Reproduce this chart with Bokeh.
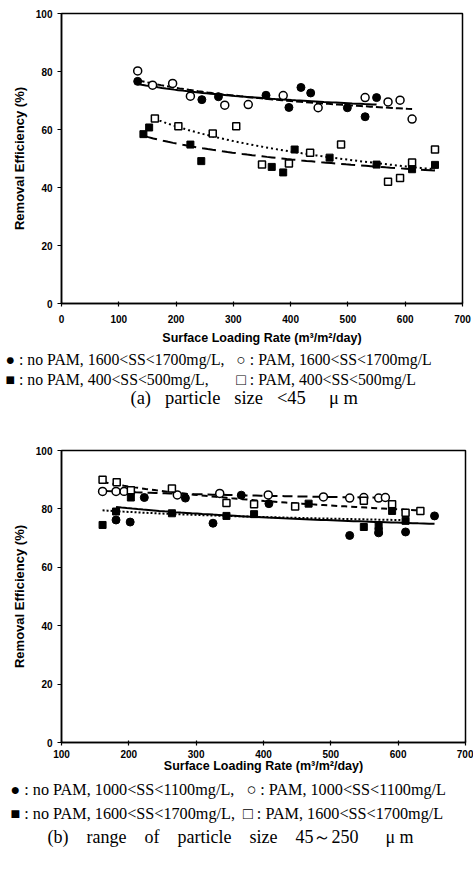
import numpy as np
from bokeh.plotting import figure
from bokeh.layouts import column
from bokeh.models import FixedTicker, Range1d, Title
from bokeh.embed import file_html
from bokeh.resources import INLINE

# ---------- (a) particle size < 45 um ----------
a_x_nopam_hi = [133, 245, 274, 357, 397, 418, 435, 499, 530, 550]
a_y_nopam_hi = [76.6, 70.3, 71.3, 71.8, 67.6, 74.5, 72.6, 67.5, 64.4, 71.0]
a_x_pam_hi = [133, 159, 194, 225, 285, 326, 387, 448, 530, 570, 591, 612]
a_y_pam_hi = [80.2, 75.3, 75.9, 71.5, 68.4, 68.6, 71.7, 67.5, 71.0, 69.5, 70.1, 63.6]
a_x_nopam_lo = [143, 153, 225, 244, 367, 387, 407, 468, 550, 612, 652]
a_y_nopam_lo = [58.4, 60.7, 54.8, 49.1, 47.1, 45.2, 53.1, 50.3, 47.9, 46.3, 47.8]
a_x_pam_lo = [163, 204, 264, 305, 350, 397, 434, 488, 570, 591, 612, 652]
a_y_pam_lo = [63.8, 61.1, 58.6, 61.1, 47.9, 48.3, 52.0, 54.8, 42.0, 43.3, 48.6, 53.1]

# ---------- (b) particle size 45~250 um ----------
b_x_nopam_1000 = [181, 202, 223, 284, 325, 367, 408, 528, 571, 611, 654]
b_y_nopam_1000 = [76.2, 75.5, 83.9, 83.7, 75.1, 84.7, 81.8, 70.9, 71.8, 72.1, 77.6]
b_x_pam_1000 = [161, 181, 193, 272, 335, 407, 489, 528, 549, 571, 581]
b_y_pam_1000 = [86.0, 86.0, 86.0, 84.8, 85.3, 84.8, 84.1, 83.7, 83.9, 83.7, 83.9]
b_x_nopam_1600 = [161, 181, 203, 264, 345, 386, 467, 549, 571, 571, 591, 611]
b_y_nopam_1600 = [74.5, 79.1, 83.9, 78.5, 77.6, 78.2, 81.8, 73.8, 74.1, 72.4, 79.3, 75.9]
b_x_pam_1600 = [161, 182, 203, 264, 345, 386, 447, 549, 591, 611, 633]
b_y_pam_1600 = [90.0, 89.1, 86.4, 87.0, 82.0, 81.6, 80.8, 82.8, 81.6, 78.7, 79.3]

y_ticks = [0, 20, 40, 60, 80, 100]
a_x_ticks = [0, 100, 200, 300, 400, 500, 600, 700]
b_x_ticks = [100, 200, 300, 400, 500, 600, 700]

NB = "\u00a0"
x_title = "Surface Loading Rate (m\u00b3/m\u00b2/day)"
y_title = "Removal Efficiency (%)"
a_legend = ["\u25cf : no PAM, 1600<SS<1700mg/L," + NB * 3 + "\u25cb : PAM, 1600<SS<1700mg/L",
            "\u25a0 : no PAM, 400<SS<500mg/L," + NB * 7 + "\u25a1 : PAM, 400<SS<500mg/L"]
b_legend = ["\u25cf : no PAM, 1000<SS<1100mg/L," + NB * 3 + "\u25cb : PAM, 1000<SS<1100mg/L",
            "\u25a0 : no PAM, 1600<SS<1700mg/L," + NB * 2 + "\u25a1 : PAM, 1600<SS<1700mg/L"]
a_caption = "(a)" + NB * 3 + "particle" + NB * 3 + "size" + NB * 3 + "<45" + NB * 5 + "\u03bc" + NB + "m"
b_caption = ("(b)" + NB * 4 + "range" + NB * 4 + "of" + NB * 4 + "particle" + NB * 4 + "size" + NB * 4
             + "45\uff5e250" + NB * 6 + "\u03bc" + NB + "m")

SANS = "Liberation Sans"
SERIF = "Liberation Serif"
W = 473


def log_trend(xs, ys):
    xs = np.asarray(xs, float)
    ys = np.asarray(ys, float)
    a, b = np.polyfit(np.log(xs), ys, 1)
    xx = np.linspace(xs.min(), xs.max(), 60)
    return xx, a * np.log(xx) + b


def make_fig(xr, xticks, fw, fh, left, top, bottom, label_standoff, title_standoff):
    p = figure(frame_width=fw, frame_height=fh, x_range=Range1d(*xr), y_range=Range1d(0, 100),
               output_backend="svg", toolbar_location=None, title=None,
               min_border_left=left, min_border_right=W - left - fw, min_border_top=top,
               min_border_bottom=bottom)
    p.grid.visible = False
    p.outline_line_color = "black"
    p.outline_line_width = 1.5
    for ax in (p.xaxis[0], p.yaxis[0]):
        ax.axis_line_width = 1.5
        ax.axis_line_color = "black"
        ax.major_tick_line_width = 1.2
        ax.minor_tick_line_color = None
        ax.major_label_text_font = SANS
        ax.major_label_text_font_style = "bold"
        ax.major_label_text_font_size = "10px"
        ax.major_label_text_color = "black"
        ax.axis_label_text_font = SANS
        ax.axis_label_text_font_style = "bold"
        ax.axis_label_text_color = "black"
    p.xaxis.ticker = FixedTicker(ticks=xticks)
    p.yaxis.ticker = FixedTicker(ticks=y_ticks)
    p.xaxis.major_tick_in = 2
    p.xaxis.major_tick_out = 3
    p.yaxis.major_tick_in = 0
    p.yaxis.major_tick_out = 4
    p.xaxis.major_label_standoff = label_standoff
    p.yaxis.major_label_standoff = 5
    p.yaxis.axis_label = y_title
    p.yaxis.axis_label_text_font_size = "13px"
    p.yaxis.axis_label_standoff = 6
    p.xaxis.axis_label = x_title
    p.xaxis.axis_label_text_font_size = "12.5px"
    p.xaxis.axis_label_standoff = title_standoff
    return p


def add_below(p, text, size, offset, standoff):
    t = Title(text=text, align="left", offset=offset, text_font=SERIF, text_font_size=size,
              text_font_style="normal", standoff=standoff, text_color="black")
    p.add_layout(t, "below")


# ---------- figure (a) ----------
pa = make_fig((0, 700), a_x_ticks, 401, 290, 61, 13, 137, 8, 5)
for xs, ys, dash in [(a_x_nopam_hi, a_y_nopam_hi, "solid"), (a_x_pam_hi, a_y_pam_hi, "7 3"),
                     (a_x_nopam_lo, a_y_nopam_lo, "14 6"), (a_x_pam_lo, a_y_pam_lo, "2 3")]:
    tx, ty = log_trend(xs, ys)
    pa.line(tx, ty, line_color="black", line_width=2, line_dash=dash)
pa.scatter(a_x_pam_hi, a_y_pam_hi, marker="circle", size=8, fill_color="white", line_color="black", line_width=1.5)
pa.scatter(a_x_nopam_hi, a_y_nopam_hi, marker="circle", size=8, fill_color="black", line_color="black")
pa.scatter(a_x_pam_lo, a_y_pam_lo, marker="square", size=7, fill_color="white", line_color="black", line_width=1.5)
pa.scatter(a_x_nopam_lo, a_y_nopam_lo, marker="square", size=7, fill_color="black", line_color="black")
add_below(pa, a_legend[0], "15.8px", -56, 2)
add_below(pa, a_legend[1], "15.8px", -56, 0)
add_below(pa, a_caption, "18.5px", 69, -3)

# ---------- figure (b) ----------
pb = make_fig((100, 700), b_x_ticks, 404, 292, 59, 10, 138, 4, -2)
for xs, ys, dash in [(b_x_nopam_1000, b_y_nopam_1000, "solid"), (b_x_pam_1000, b_y_pam_1000, "10 5"),
                     (b_x_nopam_1600, b_y_nopam_1600, "2 2"), (b_x_pam_1600, b_y_pam_1600, "6 4")]:
    tx, ty = log_trend(xs, ys)
    pb.line(tx, ty, line_color="black", line_width=2, line_dash=dash)
pb.scatter(b_x_pam_1000, b_y_pam_1000, marker="circle", size=8, fill_color="white", line_color="black", line_width=1.5)
pb.scatter(b_x_nopam_1000, b_y_nopam_1000, marker="circle", size=8, fill_color="black", line_color="black")
pb.scatter(b_x_pam_1600, b_y_pam_1600, marker="square", size=7, fill_color="white", line_color="black", line_width=1.5)
pb.scatter(b_x_nopam_1600, b_y_nopam_1600, marker="square", size=7, fill_color="black", line_color="black")
add_below(pb, b_legend[0], "16.2px", -51, 7)
add_below(pb, b_legend[1], "16.2px", -51, 0)
add_below(pb, b_caption, "18px", -14, 5)

layout = column(pa, pb, spacing=0)
open("out.html", "w").write(file_html(layout, INLINE))
